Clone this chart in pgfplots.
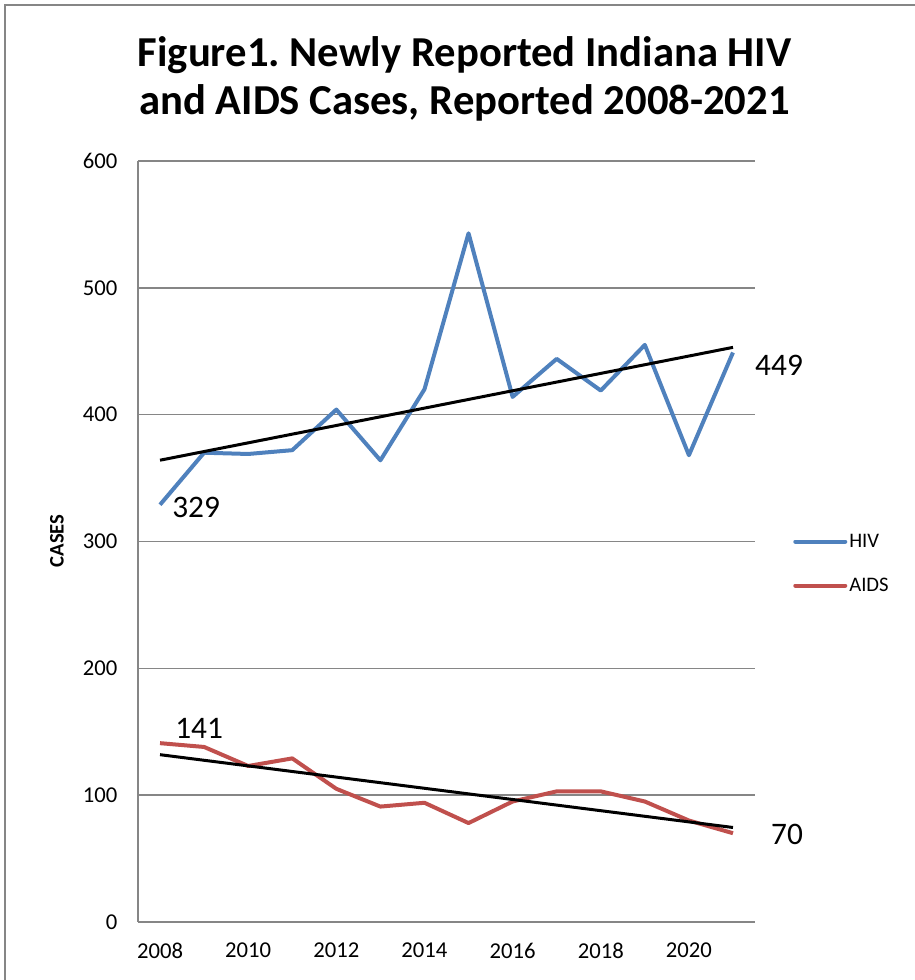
\documentclass[border=0pt]{standalone}
\usepackage{fontspec}
\setmainfont{Carlito}
\usepackage{pgfplots}
\usepackage{pgfplotstable}
\pgfplotsset{compat=1.18}
\frenchspacing
\definecolor{hivblue}{HTML}{4F81BD}
\definecolor{aidsred}{HTML}{C0504D}
\definecolor{gridgray}{HTML}{868686}
\pgfplotstableread{
x year hiv aids
0 2008 329 141
1 2009 370 138
2 2010 369 123
3 2011 372 129
4 2012 404 105
5 2013 364 91
6 2014 420 94
7 2015 543 78
8 2016 414 95
9 2017 444 103
10 2018 419 103
11 2019 455 95
12 2020 368 80
13 2021 449 70
}\datatable
\begin{document}
\begin{tikzpicture}
\useasboundingbox (0pt,0pt) rectangle (685.5pt,735pt);
\draw[gridgray, line width=1.5pt] (3.75pt,-5pt) -- (3.75pt,731.25pt) -- (690pt,731.25pt);
\node[font=\fontsize{32}{38}\selectfont\bfseries, anchor=base, inner sep=0pt] at (348.4pt,685.1pt) {Figure1. Newly Reported Indiana HIV};
\node[font=\fontsize{32}{38}\selectfont\bfseries, anchor=base, inner sep=0pt] at (348.4pt,648.75pt) {and AIDS Cases, Reported 2008-2021};
\node[font=\fontsize{15.5}{18}\selectfont\bfseries, rotate=90] at (42.75pt,329.25pt) {CASES};
\begin{axis}[
  scale only axis,
  width=462.75pt, height=570.75pt,
  at={(103.5pt,43.5pt)}, anchor=south west,
  xmin=-0.5, xmax=13.5,
  ymin=0, ymax=600,
  xtick={0,2,4,6,8,10,12},
  xticklabels={2008,2010,2012,2014,2016,2018,2020},
  ytick={0,100,200,300,400,500,600},
  axis x line=bottom, axis y line=left,
  axis line style={gridgray, line width=1.2pt, -},
  ymajorgrids,
  major grid style={gridgray, line width=1.2pt},
  major tick length=0pt,
  tick label style={font=\fontsize{17}{20}\selectfont},
  /pgf/number format/assume math mode=true,
  xticklabel style={yshift=-12pt},
  yticklabel style={xshift=-12pt},
  clip=false,
  legend style={at={(1.0616,0.471)}, anchor=west, draw=none, fill=none,
    font=\fontsize{15.5}{18}\selectfont, inner sep=0pt, row sep=18.5pt,
    nodes={inner sep=1.5pt}},
  legend cell align=left,
  legend image code/.code={\draw[#1, line cap=round] (0pt,0pt) -- (37.5pt,0pt);},
]
\addplot[hivblue, line width=3pt, line join=round] table[x=x, y=hiv] {\datatable};
\addlegendentry{HIV}
\addplot[aidsred, line width=3pt, line join=round] table[x=x, y=aids] {\datatable};
\addlegendentry{AIDS}
\addplot[black, line width=2.25pt, forget plot] table[x=x, y={create col/linear regression={y=hiv}}] {\datatable};
\addplot[black, line width=2.25pt, forget plot] table[x=x, y={create col/linear regression={y=aids}}] {\datatable};
\node[anchor=west, inner sep=0pt, font=\fontsize{23.5}{28}\selectfont, xshift=9pt, yshift=-1.7pt] at (axis cs:0,329) {329};
\node[anchor=west, inner sep=0pt, font=\fontsize{23.5}{28}\selectfont, xshift=16.5pt, yshift=-9.4pt] at (axis cs:13,449) {449};
\node[anchor=west, inner sep=0pt, font=\fontsize{23.5}{28}\selectfont, xshift=11.25pt, yshift=11.25pt] at (axis cs:0,141) {141};
\node[anchor=west, inner sep=0pt, font=\fontsize{23.5}{28}\selectfont, xshift=28.5pt, yshift=-0.75pt] at (axis cs:13,70) {70};
\end{axis}
\end{tikzpicture}
\end{document}
